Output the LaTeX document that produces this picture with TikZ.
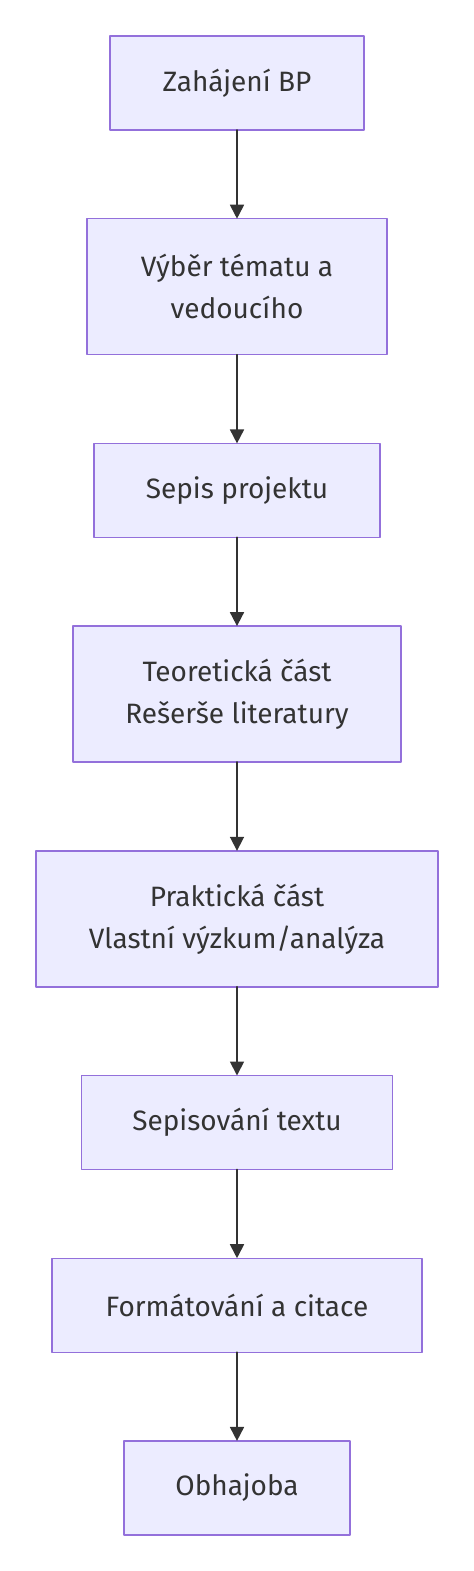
\documentclass[tikz,border=0pt]{standalone}
\usepackage{fontspec}
\setmainfont{Fira Sans}
\usetikzlibrary{arrows.meta,positioning}
\definecolor{boxfill}{HTML}{ECECFF}
\definecolor{boxline}{HTML}{9370DB}
\definecolor{txt}{HTML}{333333}
\begin{document}
\begin{tikzpicture}[line cap=round,line join=round,>={Triangle[width=7pt,length=7pt]},
  krok/.style={draw=boxline,fill=boxfill,line width=0.7pt,text=txt,align=center,
    minimum height=47pt,inner sep=0pt,outer sep=0pt,font=\fontsize{14}{21}\selectfont},
  dvakrok/.style={krok,minimum height=68pt},
  sipka/.style={->,draw=txt,line width=0.9pt},
  node distance=44.35pt]
\useasboundingbox (0,0) rectangle (237pt,-785.5pt);
% kroky
\node[krok,minimum width=127pt] (zahajeni) at (118.5pt,-41.5pt) {Zahájení BP};
\node[dvakrok,minimum width=150pt,below=of zahajeni] (vyber) {Výběr tématu a\\vedoucího};
\node[krok,minimum width=143pt,below=of vyber] (projekt) {Sepis projektu};
\node[dvakrok,minimum width=164pt,below=of projekt] (teorie) {Teoretická část\\Rešerše literatury};
\node[dvakrok,minimum width=201pt,below=of teorie] (praxe) {Praktická část\\Vlastní výzkum/analýza};
\node[krok,minimum width=155.5pt,below=of praxe] (text) {Sepisování textu};
\node[krok,minimum width=185pt,below=of text] (format) {Formátování a citace};
\node[krok,minimum width=113pt,below=of format] (obhajoba) {Obhajoba};
% sipky
\draw[sipka] (zahajeni) -- (vyber);
\draw[sipka] (vyber) -- (projekt);
\draw[sipka] (projekt) -- (teorie);
\draw[sipka] (teorie) -- (praxe);
\draw[sipka] (praxe) -- (text);
\draw[sipka] (text) -- (format);
\draw[sipka] (format) -- (obhajoba);
\end{tikzpicture}
\end{document}
